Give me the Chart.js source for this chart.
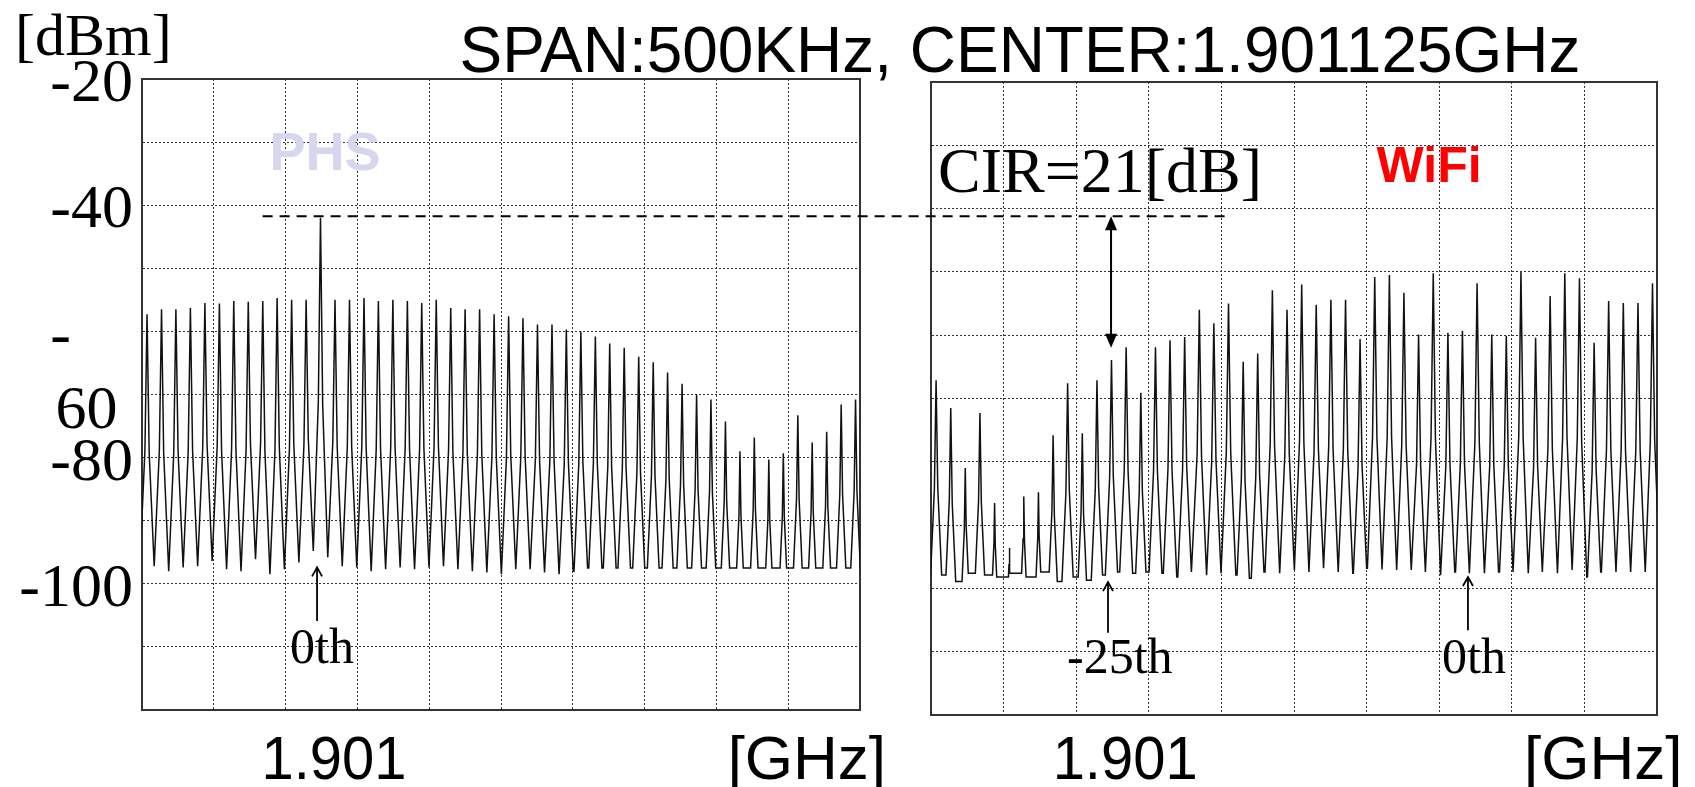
<!DOCTYPE html>
<html>
<head>
<meta charset="utf-8">
<script src="https://cdn.jsdelivr.net/npm/chart.js@4.4.1/dist/chart.umd.min.js"></script>
<style>
  html, body { margin: 0; padding: 0; background: #fff; }
  #wrap { position: relative; width: 1695px; height: 787px; }
  #wrap canvas { position: absolute; left: 0; top: 0; }
</style>
</head>
<body>
<div id="wrap">
  <canvas id="phsChart" width="1695" height="787"></canvas>
  <canvas id="wifiChart" width="1695" height="787"></canvas>
</div>
<script>
// comb line frequencies, kHz from the left edge of the 500 kHz span
var combKhz = [3.5, 13.6, 23.6, 33.7, 43.8, 53.9, 63.9, 74.0, 84.1, 94.1,
  104.2, 114.3, 124.3, 134.4, 144.5, 154.6, 164.6, 174.7, 184.8, 194.8,
  204.9, 215.0, 225.0, 235.1, 245.2, 255.3, 265.3, 275.4, 285.5, 295.5,
  305.6, 315.7, 325.7, 335.8, 345.9, 356.0, 366.0, 376.1, 386.2, 396.2,
  406.3, 416.4, 426.4, 436.5, 446.6, 456.7, 466.7, 476.8, 486.9, 496.9];

// PHS panel: peak of every comb line [dBm] (13th one is the PHS carrier)
var phsPeaks = [-57.3, -56.5, -56.5, -56.3, -55.5, -55.6, -55.2, -55.3, -55.2, -54.7,
  -55.0, -55.0, -42.0, -55.0, -55.0, -54.7, -55.2, -55.0, -55.2, -55.5,
  -55.0, -56.3, -56.5, -56.5, -57.3, -57.6, -57.9, -58.9, -58.9, -59.7,
  -60.0, -60.8, -61.9, -62.6, -64.0, -64.9, -66.5, -68.3, -70.0, -70.8,
  -74.3, -79.0, -76.8, -80.3, -79.3, -73.3, -77.6, -75.9, -71.6, -70.8];
// PHS panel: floor between the lines [dBm] (one more than peaks)
var phsFloor = [-96.6, -97.2, -98.0, -97.4, -97.2, -96.4, -97.7, -98.0, -96.1, -98.5,
  -97.7, -96.6, -94.8, -95.8, -97.2, -97.4, -98.0, -97.7, -97.4, -97.7,
  -97.4, -97.2, -97.7, -98.0, -98.2, -98.5, -97.7, -97.7, -98.2, -98.5,
  -98.0, -97.5, -97.5, -97.5, -97.5, -97.5, -97.5, -97.5, -97.5, -97.5,
  -97.5, -97.5, -97.5, -97.5, -97.5, -97.5, -97.5, -97.5, -97.5, -97.5, -97.5];

// WiFi panel
var wifiPeaks = [-67.1, -71.5, -81.0, -72.3, -86.5, -93.6, -85.5, -84.8, -75.8, -67.6,
  -75.5, -67.1, -63.9, -61.9, -69.1, -61.9, -60.8, -60.3, -56.0, -58.1,
  -55.0, -64.2, -62.9, -52.9, -56.0, -52.0, -55.2, -54.4, -54.4, -60.6,
  -50.8, -50.5, -53.3, -59.9, -50.2, -59.6, -59.3, -51.8, -59.9, -60.1,
  -50.0, -60.4, -53.8, -50.2, -51.0, -61.2, -54.6, -54.9, -54.9, -51.8];
var wifiFloor = [-98.4, -97.9, -98.9, -97.6, -97.9, -98.2, -97.6, -98.2, -97.4, -98.9,
  -98.2, -98.7, -97.9, -97.4, -97.6, -97.4, -97.6, -98.2, -97.4, -97.9,
  -97.6, -97.9, -98.4, -97.4, -97.6, -97.1, -97.4, -96.8, -97.4, -97.6,
  -96.8, -97.0, -97.1, -97.1, -97.4, -97.9, -97.4, -97.6, -97.6, -97.4,
  -97.4, -97.6, -97.4, -97.6, -97.1, -98.2, -97.4, -97.4, -97.4, -97.4, -97.0];

var yTickValues = [-20, -40, -60, -80, -100];
var yTickLabels = ['-20', '-40', ['', '-    ', '60 '], '-80', '-100'];
var xLabelText = ['1.901', '[GHz]'];
var xLabelKhz = [133.7, 463];

var SKIRT = 8.0;          // dB per kHz, how fast a line falls to the floor
var KNEE = [0.3, 0.55];   // line is narrow at the top: 55% of the drop within 30% of the width

function buildTrace(peaks, floors) {
  var pts = [];
  for (var i = 0; i < peaks.length; i++) {
    var f = combKhz[i];
    var p = peaks[i];
    var halfL = i > 0 ? (f - combKhz[i - 1]) / 2 : 5;
    var halfR = i < peaks.length - 1 ? (combKhz[i + 1] - f) / 2 : 5;
    var wL = Math.min(halfL, (p - floors[i]) / SKIRT);
    var wR = Math.min(halfR, (p - floors[i + 1]) / SKIRT);
    pts.push({ x: f - wL, y: floors[i] });
    pts.push({ x: f - KNEE[0] * wL, y: p - KNEE[1] * (p - floors[i]) });
    pts.push({ x: f, y: p });
    pts.push({ x: f + KNEE[0] * wR, y: p - KNEE[1] * (p - floors[i + 1]) });
    pts.push({ x: f + wR, y: floors[i + 1] });
  }
  return pts;
}

function writeText(ctx, txt, x, y, font, color, align, base, maxW) {
  ctx.save();
  ctx.font = font;
  ctx.fillStyle = color;
  ctx.textAlign = align;
  ctx.textBaseline = base;
  if (maxW) ctx.fillText(txt, x, y, maxW);
  else ctx.fillText(txt, x, y);
  ctx.restore();
}

function drawFrame(chart) {
  var a = chart.chartArea, ctx = chart.ctx;
  ctx.save();
  ctx.strokeStyle = '#333';
  ctx.lineWidth = 2;
  ctx.strokeRect(a.left, a.top, a.right - a.left, a.bottom - a.top);
  ctx.restore();
}

function upArrow(ctx, x, yTip, yTail) {
  ctx.save();
  ctx.strokeStyle = '#000';
  ctx.lineWidth = 1.8;
  ctx.beginPath();
  ctx.moveTo(x, yTail);
  ctx.lineTo(x, yTip);
  ctx.stroke();
  ctx.beginPath();
  ctx.moveTo(x - 5, yTip + 9);
  ctx.lineTo(x, yTip);
  ctx.lineTo(x + 5, yTip + 9);
  ctx.stroke();
  ctx.restore();
}

function doubleArrow(ctx, x, yTop, yBottom) {
  ctx.save();
  ctx.strokeStyle = '#000';
  ctx.fillStyle = '#000';
  ctx.lineWidth = 2;
  ctx.beginPath();
  ctx.moveTo(x, yTop + 10);
  ctx.lineTo(x, yBottom - 10);
  ctx.stroke();
  ctx.beginPath();
  ctx.moveTo(x, yTop); ctx.lineTo(x - 6, yTop + 14); ctx.lineTo(x + 6, yTop + 14);
  ctx.closePath(); ctx.fill();
  ctx.beginPath();
  ctx.moveTo(x, yBottom); ctx.lineTo(x - 6, yBottom - 14); ctx.lineTo(x + 6, yBottom - 14);
  ctx.closePath(); ctx.fill();
  ctx.restore();
}

function axisLabels(chart) {
  var xs = chart.scales.x;
  for (var i = 0; i < xLabelText.length; i++) {
    writeText(chart.ctx, xLabelText[i], xs.getPixelForValue(xLabelKhz[i]), chart.height - 8,
      '62px "Liberation Sans"', '#000', 'center', 'alphabetic', i === 0 ? 145 : 160);
  }
}

function panelOptions(pad, showY) {
  var grid = { color: '#333', lineWidth: 1, drawTicks: false };
  var border = { color: '#333', width: 2, dash: [2, 2] };
  return {
    responsive: false,
    animation: false,
    events: [],
    layout: { padding: pad },
    plugins: { legend: { display: false }, tooltip: { enabled: false } },
    scales: {
      x: {
        type: 'linear', min: 0, max: 500,
        ticks: { display: false, stepSize: 50 },
        grid: grid, border: border,
        afterFit: function (s) { s.height = 0; }
      },
      y: {
        type: 'linear', min: -120, max: -20,
        ticks: {
          display: showY, stepSize: 10, autoSkip: false, padding: 9, labelOffset: 6, color: '#000',
          font: { family: 'Liberation Serif', size: 62, lineHeight: 1.2 },
          callback: function (v) {
            var i = yTickValues.indexOf(v);
            return i < 0 ? '' : yTickLabels[i];
          }
        },
        grid: grid, border: border,
        afterFit: function (s) { s.width = showY ? 142 : 0; }
      }
    }
  };
}

function traceSet(points) {
  return {
    data: points,
    borderColor: '#111',
    borderWidth: 1.5,
    pointRadius: 0,
    tension: 0,
    fill: false
  };
}

var phsNotes = {
  id: 'phsNotes',
  beforeDatasetsDraw: function (chart) { drawFrame(chart); },
  afterDraw: function (chart) {
    var ctx = chart.ctx, xs = chart.scales.x, ys = chart.scales.y;
    writeText(ctx, '[dBm]', 15, 55, '60px "Liberation Serif"', '#000', 'left', 'alphabetic');
    writeText(ctx, 'PHS', xs.getPixelForValue(127.4), ys.getPixelForValue(-32),
      'bold 54px "Liberation Sans"', 'rgb(214, 214, 238)', 'center', 'middle');
    upArrow(ctx, xs.getPixelForValue(121.9), ys.getPixelForValue(-97.4), ys.getPixelForValue(-105.9));
    writeText(ctx, '0th', xs.getPixelForValue(125.3), ys.getPixelForValue(-110.5),
      '50px "Liberation Serif"', '#000', 'center', 'middle');
    axisLabels(chart);
  }
};

var wifiNotes = {
  id: 'wifiNotes',
  beforeDatasetsDraw: function (chart) { drawFrame(chart); },
  afterDraw: function (chart) {
    var ctx = chart.ctx, xs = chart.scales.x, ys = chart.scales.y;
    writeText(ctx, 'SPAN:500KHz, CENTER:1.901125GHz', 1020, 72,
      '64px "Liberation Sans"', '#000', 'center', 'alphabetic', 1121);
    writeText(ctx, 'WiFi', xs.getPixelForValue(343), ys.getPixelForValue(-33.6),
      'bold 50px "Liberation Sans"', '#ff0000', 'center', 'middle');
    writeText(ctx, 'CIR=21[dB]', xs.getPixelForValue(116.4), ys.getPixelForValue(-37.4),
      '64px "Liberation Serif"', '#000', 'center', 'alphabetic');

    // dashed level of the PHS carrier, from the left panel over to the right one
    var yRef = ys.getPixelForValue(-41.2);
    ctx.save();
    ctx.strokeStyle = '#000';
    ctx.lineWidth = 2;
    ctx.setLineDash([10, 7]);
    ctx.beginPath();
    ctx.moveTo(window.leftChart ? window.leftChart.scales.x.getPixelForValue(84) : 263, yRef);
    ctx.lineTo(xs.getPixelForValue(202.5), yRef);
    ctx.stroke();
    ctx.restore();

    doubleArrow(ctx, xs.getPixelForValue(124), yRef, ys.getPixelForValue(-62));

    upArrow(ctx, xs.getPixelForValue(121.9), ys.getPixelForValue(-99), ys.getPixelForValue(-107));
    writeText(ctx, '-25th', xs.getPixelForValue(130), ys.getPixelForValue(-111.3),
      '50px "Liberation Serif"', '#000', 'center', 'middle');
    upArrow(ctx, xs.getPixelForValue(369.8), ys.getPixelForValue(-98.2), ys.getPixelForValue(-106.6));
    writeText(ctx, '0th', xs.getPixelForValue(374), ys.getPixelForValue(-111.3),
      '50px "Liberation Serif"', '#000', 'center', 'middle');
    axisLabels(chart);
  }
};

window.leftChart = new Chart(document.getElementById('phsChart'), {
  type: 'line',
  data: { datasets: [traceSet(buildTrace(phsPeaks, phsFloor))] },
  options: panelOptions({ left: 0, top: 79, right: 835, bottom: 77 }, true),
  plugins: [phsNotes]
});

window.rightChart = new Chart(document.getElementById('wifiChart'), {
  type: 'line',
  data: { datasets: [traceSet(buildTrace(wifiPeaks, wifiFloor))] },
  options: panelOptions({ left: 931, top: 82, right: 38, bottom: 72 }, false),
  plugins: [wifiNotes]
});
</script>
</body>
</html>
